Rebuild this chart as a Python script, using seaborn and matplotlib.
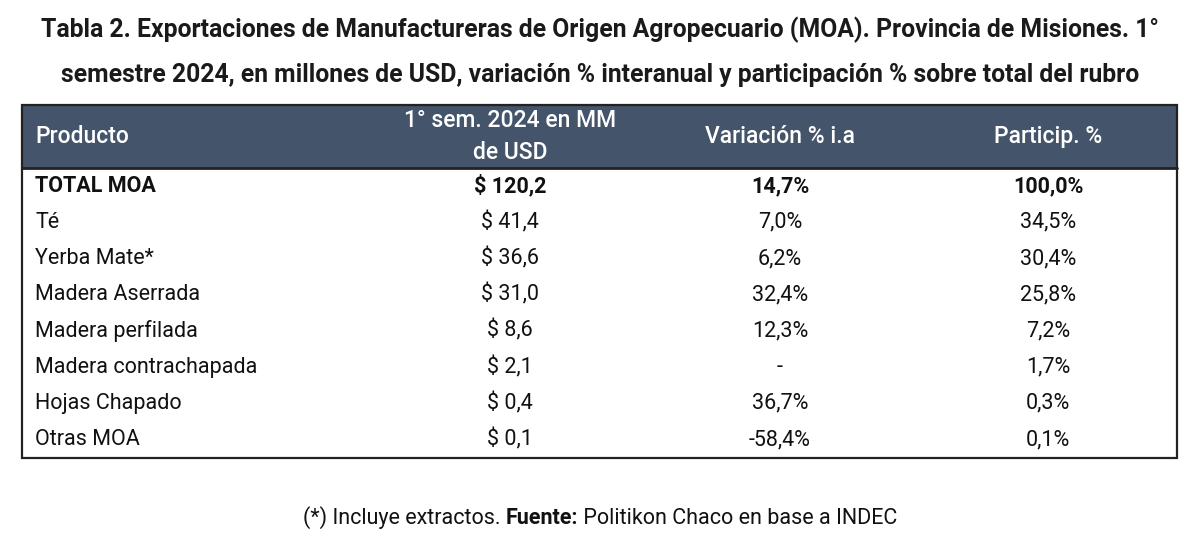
import matplotlib
matplotlib.use("Agg")
import matplotlib.pyplot as plt
import seaborn as sns
import pandas as pd

# table data
productos = ["TOTAL MOA", "Té", "Yerba Mate*", "Madera Aserrada", "Madera perfilada",
             "Madera contrachapada", "Hojas Chapado", "Otras MOA"]
valor_usd = ["$ 120,2", "$ 41,4", "$ 36,6", "$ 31,0", "$ 8,6", "$ 2,1", "$ 0,4", "$ 0,1"]
variacion = ["14,7%", "7,0%", "6,2%", "32,4%", "12,3%", "-", "36,7%", "-58,4%"]
particip = ["100,0%", "34,5%", "30,4%", "25,8%", "7,2%", "1,7%", "0,3%", "0,1%"]
headers = ["Producto", "1° sem. 2024 en MM\nde USD", "Variación % i.a", "Particip. %"]

title = ("Tabla 2. Exportaciones de Manufactureras de Origen Agropecuario (MOA). Provincia de Misiones. 1°\n"
         "semestre 2024, en millones de USD, variación % interanual y participación % sobre total del rubro")
nota = ["(*) Incluye extractos. ", "Fuente:", " Politikon Chaco en base a INDEC"]

df = pd.DataFrame({"Producto": productos, "USD": valor_usd,
                   "Variacion": variacion, "Particip": particip})

sns.set_theme(style="white")
plt.rcParams["font.family"] = ["Roboto", "DejaVu Sans"]

header_color = "#44546a"
fig, ax = plt.subplots(figsize=(12, 5.36), dpi=100)
fig.subplots_adjust(left=0, right=1, top=1, bottom=0)
ax.set_xlim(0, 1200)
ax.set_ylim(536, 0)
ax.axis("off")

# layout in pixel units
left, right = 22, 1177
head_top, head_bot = 105, 168
row_h = 36.2
col_centers = [None, 510, 780, 1048]

ax.text(600, 52, title, ha="center", va="center", fontsize=17.8,
        fontweight="bold", color="#1a1a1a", linespacing=2.05)

# header band
ax.add_patch(plt.Rectangle((left, head_top), right - left, head_bot - head_top,
                           facecolor=header_color, edgecolor="none"))
hy = (head_top + head_bot) / 2
for j, h in enumerate(headers):
    if j == 0:
        ax.text(35, hy, h, ha="left", va="center", color="white",
                fontsize=16.5, fontweight="medium")
    else:
        ax.text(col_centers[j], hy, h, ha="center", va="center", color="white",
                fontsize=16.5, fontweight="medium", linespacing=1.5)

# body rows
for i, row in df.iterrows():
    y = head_bot + row_h * (i + 0.5)
    weight = "bold" if i == 0 else "normal"
    ax.text(35, y, row["Producto"], ha="left", va="center", fontsize=15.5,
            fontweight=weight, color="#111111")
    for j, key in enumerate(["USD", "Variacion", "Particip"], start=1):
        ax.text(col_centers[j], y, row[key], ha="center", va="center",
                fontsize=15.5, fontweight=weight, color="#111111")

table_bot = head_bot + row_h * len(df)
ax.add_patch(plt.Rectangle((left, head_top), right - left, table_bot - head_top,
                           facecolor="none", edgecolor="#222222", linewidth=1.6))
ax.plot([left, right], [head_bot, head_bot], color="#222222", linewidth=2)

# footnote: regular / bold / regular pieces laid side by side
fig.canvas.draw()
renderer = fig.canvas.get_renderer()
pieces = []
for k, txt in enumerate(nota):
    t = ax.text(0, 518, txt, ha="left", va="center", fontsize=15.5, color="#111111",
                fontweight="bold" if k == 1 else "normal")
    pieces.append(t)
widths = [t.get_window_extent(renderer).width for t in pieces]
x = 600 - sum(widths) / 2
for t, w in zip(pieces, widths):
    t.set_x(x)
    x += w

fig.savefig("out.png", dpi=100)
